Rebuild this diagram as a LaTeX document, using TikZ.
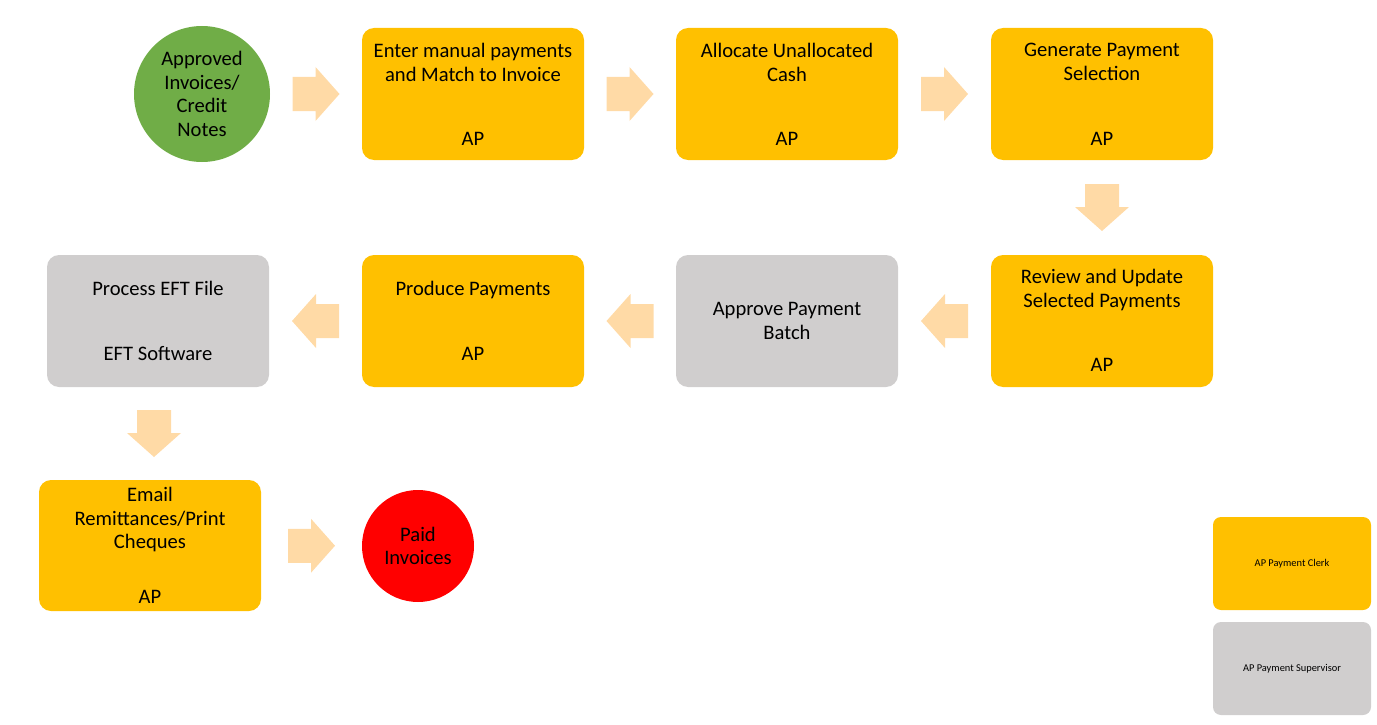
\documentclass[tikz,border=0pt]{standalone}
\usepackage{fontspec}
\setmainfont{Carlito}
\usetikzlibrary{calc}
\definecolor{apclerk}{HTML}{FFC000}
\definecolor{apsuper}{HTML}{D0CECE}
\definecolor{startgreen}{HTML}{70AD47}
\definecolor{flowpeach}{HTML}{FFDAA6}
\tikzset{
    procbox/.style={fill=#1,rounded corners=12pt,minimum width=222pt,minimum height=132pt,inner sep=0pt,align=center},
    termcircle/.style={circle,fill=#1,inner sep=0pt,align=center},
    pics/flow arrow/.style={
        code={
            \fill[flowpeach] (-23.5,-17) --++
                (23,0) --++
                (0,-10) --
                (23.5,0) --
                (-0.5,27) --++
                (0,-10) --++
                (-23,0) -- cycle;
        }
    },
    boxtext/.style={anchor=north,inner sep=0pt,align=center},
    roletext/.style={anchor=base,inner sep=0pt},
    legendbox/.style={fill=#1,rounded corners=8pt,minimum width=158pt,minimum height=93pt,inner sep=0pt,font=\fontsize{10.4}{12}\selectfont}
}

\begin{document}
\begin{tikzpicture}[x=1pt,y=-1pt,font=\fontsize{20.6}{23.7}\selectfont]
\useasboundingbox (0,0) rectangle (1377,725);

% ========= Row 1 =========
\node[termcircle=startgreen,minimum size=136pt] (approved) at (202,94) {Approved\\Invoices/\\Credit\\Notes};

\node[procbox=apclerk] (manual) at (473,94) {};
\node[boxtext] (manualtxt) at ($(manual.north)+(0,15)$) {Enter manual payments\\and Match to Invoice};
\node[roletext] (manualrole) at ($(manual.south)+(0,-15)$) {AP};

\node[procbox=apclerk] (allocate) at (787,94) {};
\node[boxtext] (allocatetxt) at ($(allocate.north)+(0,15)$) {Allocate Unallocated\\Cash};
\node[roletext] (allocaterole) at ($(allocate.south)+(0,-15)$) {AP};

\node[procbox=apclerk] (generate) at (1102,94) {};
\node[boxtext] (generatetxt) at ($(generate.north)+(0,15)$) {Generate Payment\\Selection};
\node[roletext] (generaterole) at ($(generate.south)+(0,-15)$) {AP};

% ========= Row 2 =========
\node[procbox=apclerk] (review) at (1102,321) {};
\node[boxtext] (reviewtxt) at ($(review.north)+(0,14)$) {Review and Update\\Selected Payments};
\node[roletext] (reviewrole) at ($(review.south)+(0,-16)$) {AP};

\node[procbox=apsuper] (approve) at (787,321) {Approve Payment\\Batch};

\node[procbox=apclerk] (produce) at (473,321) {};
\node[boxtext] (producetxt) at ($(produce.north)+(0,26)$) {Produce Payments};
\node[roletext] (producerole) at ($(produce.south)+(0,-27)$) {AP};

\node[procbox=apsuper] (eft) at (158,321) {};
\node[boxtext] (efttxt) at ($(eft.north)+(0,26)$) {Process EFT File};
\node[roletext] (eftrole) at ($(eft.south)+(0,-27)$) {EFT Software};

% ========= Row 3 =========
\node[procbox=apclerk,minimum height=131pt] (email) at (150,545.5) {};
\node[boxtext] (emailtxt) at ($(email.north)+(0,7)$) {Email\\Remittances/Print\\Cheques};
\node[roletext] (emailrole) at ($(email.south)+(0,-8)$) {AP};

\node[termcircle=red,minimum size=112pt] (paid) at (418,546) {Paid\\Invoices};

% ========= Flow arrows =========
\pic at ($(approved.east)!0.5!(manual.west)$) {flow arrow};
\pic at ($(manual.east)!0.5!(allocate.west)$) {flow arrow};
\pic at ($(allocate.east)!0.5!(generate.west)$) {flow arrow};
\pic[rotate=-90] at ($(generate.south)!0.5!(review.north)$) {flow arrow};
\pic[rotate=180] at ($(review.west)!0.5!(approve.east)$) {flow arrow};
\pic[rotate=180] at ($(approve.west)!0.5!(produce.east)$) {flow arrow};
\pic[rotate=180] at ($(produce.west)!0.5!(eft.east)$) {flow arrow};
\pic[rotate=-90] at ($(eft.south)!0.5!(email.north)$) {flow arrow};
\pic at ($(email.east)!0.5!(paid.west)$) {flow arrow};

% ========= Legend =========
\node[legendbox=apclerk] (clerk) at (1292,563.5) {AP Payment Clerk};
\node[legendbox=apsuper] (super) at (1292,668.5) {AP Payment Supervisor};

\end{tikzpicture}
\end{document}
